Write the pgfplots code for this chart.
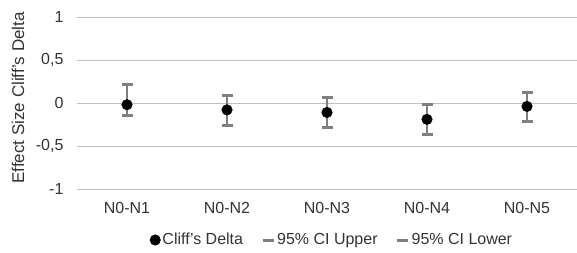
\documentclass[border=0pt]{standalone}
\usepackage{pgfplots}
\pgfplotsset{compat=1.18}
\usepackage{fontspec}
\setmainfont{Liberation Sans}
\definecolor{txt}{HTML}{333333}
\definecolor{bargray}{HTML}{7F7F7F}
\definecolor{gridc}{HTML}{BFBFBF}
\begin{document}
\fontsize{16}{18}\selectfont
\begin{tikzpicture}
\path[use as bounding box] (-77pt,-63pt) rectangle (500pt,189pt);
\begin{axis}[
  scale only axis, width=500pt, height=172pt,
  at={(0,0)}, anchor=south west,
  xmin=-0.5, xmax=4.5, ymin=-1, ymax=1,
  xtick={0,1,2,3,4},
  xticklabels={N0-N1,N0-N2,N0-N3,N0-N4,N0-N5},
  ytick={-1,-0.5,0,0.5,1},
  yticklabels={-1,{-0,5},0,{0,5},1},
  ymajorgrids, grid style={gridc, line width=0.8pt},
  axis line style={draw=none}, tick style={draw=none},
  ticklabel style={font=\fontsize{16}{18}\selectfont, text=txt},
  yticklabel style={xshift=-8pt},
  xticklabel style={yshift=-8pt},
  ylabel={Effect Size Cliff's Delta},
  ylabel style={at={(axis description cs:-0.118,0.53)}, anchor=center, font=\fontsize{17}{19}\selectfont, text=txt},
  legend style={at={(axis description cs:0.51,0)}, anchor=center, yshift=-51pt, draw=none, fill=none,
    font=\fontsize{16}{18}\selectfont, text=txt, legend columns=-1,
    /tikz/every even column/.append style={column sep=16pt}},
  legend cell align=left,
]
% whiskers
\addplot[forget plot, draw=none, mark=none,
  error bars/.cd, y dir=minus, y explicit,
  error bar style={bargray, line width=1.6pt}, error mark=none]
  coordinates {
    (0,0.21) -= (0,0.35)
    (1,0.085) -= (0,0.345)
    (2,0.06) -= (0,0.34)
    (3,-0.015) -= (0,0.355)
    (4,0.125) -= (0,0.335)
  };
\addplot[only marks, mark=*, mark size=5.3pt, black]
  coordinates {(0,-0.02) (1,-0.08) (2,-0.11) (3,-0.19) (4,-0.04)};
\addlegendentry{Cliff's Delta}
\addplot[only marks, mark=-, mark size=5.5pt, bargray, mark options={line width=3pt, solid},
  legend image code/.code={\draw[bargray, line width=3pt] (0pt,0pt) -- (11pt,0pt);}]
  coordinates {(0,0.21) (1,0.085) (2,0.06) (3,-0.015) (4,0.125)};
\addlegendentry{95\% CI Upper}
\addplot[only marks, mark=-, mark size=5.5pt, bargray, mark options={line width=3pt, solid},
  legend image code/.code={\draw[bargray, line width=3pt] (0pt,0pt) -- (11pt,0pt);}]
  coordinates {(0,-0.14) (1,-0.26) (2,-0.28) (3,-0.37) (4,-0.21)};
\addlegendentry{95\% CI Lower}
\end{axis}
\end{tikzpicture}
\end{document}
